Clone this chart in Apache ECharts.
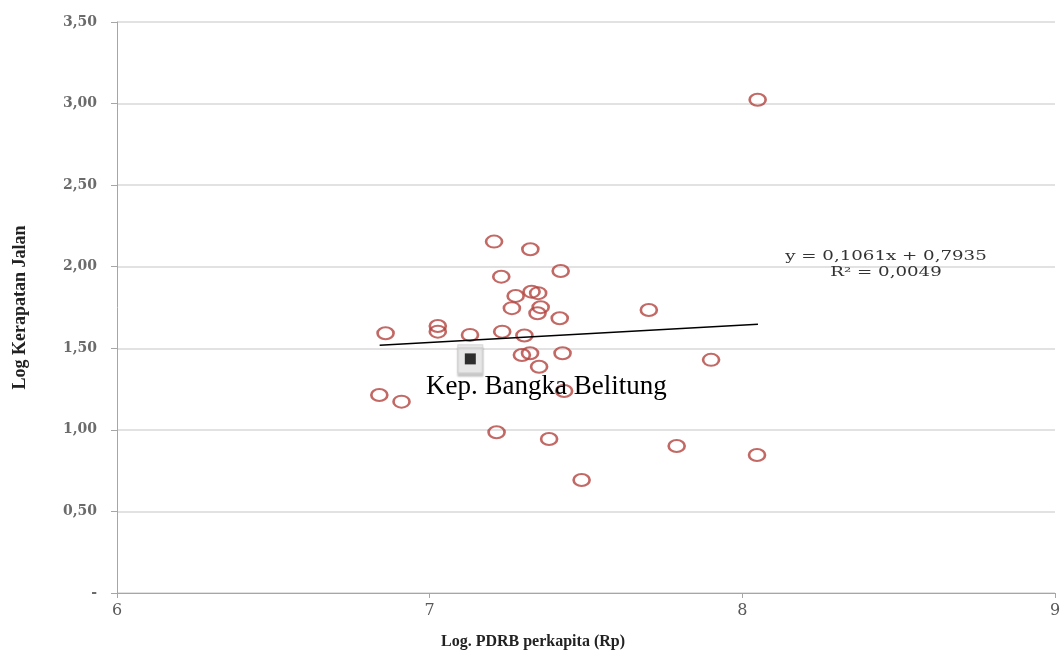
<!DOCTYPE html>
<html>
<head>
<meta charset="utf-8">
<script src="https://cdn.jsdelivr.net/npm/echarts@6/dist/echarts.min.js"></script>
<style>
  html, body { margin: 0; padding: 0; background: #fff; }
  #chart { width: 1063px; height: 653px; }
</style>
</head>
<body>
<div id="chart"></div>
<script>
// log PDRB per capita (x) vs log road density (y), one point per province
var pdrbLog = [6.839, 6.910, 6.859, 7.026, 7.026, 7.129, 7.232, 7.214, 7.206, 7.322, 7.229,
    7.419, 7.326, 7.347, 7.275, 7.263, 7.355, 7.345, 7.416, 7.303, 7.295, 7.321, 7.350,
    7.425, 7.430, 7.382, 7.486, 7.701, 7.900, 7.790, 8.047, 8.049];
var jalanLog = [1.214, 1.173, 1.592, 1.637, 1.602, 1.582, 1.602, 0.985, 2.154, 2.107, 1.939,
    1.974, 1.847, 1.838, 1.821, 1.746, 1.752, 1.715, 1.684, 1.578, 1.459, 1.470, 1.387,
    1.470, 1.238, 0.944, 0.693, 1.735, 1.429, 0.901, 0.846, 3.023];

// linear trend  y = 0,1061x + 0,7935  (end points as drawn)
var trendX = [6.84, 8.05];
var trendY = [1.519, 1.648];

// highlighted province
var highlight = [7.13, 1.435];
var highlightName = 'Kep. Bangka Belitung';

var xTicks = [6, 9, 1];      // min, max, interval
var yTicks = [0, 3.5, 0.5];

var points = pdrbLog.map(function (x, i) { return [x, jalanLog[i]]; });
var trend = trendX.map(function (x, i) { return [x, trendY[i]]; });

var myChart = echarts.init(document.getElementById('chart'));

var option = {
    backgroundColor: '#ffffff',
    animation: false,
    grid: { left: 117, right: 8, top: 22, bottom: 60, outerBoundsMode: 'none' },
    xAxis: {
        type: 'value',
        min: xTicks[0], max: xTicks[1], interval: xTicks[2],
        name: 'Log. PDRB perkapita (Rp)',
        nameLocation: 'middle',
        nameGap: 41,
        nameTextStyle: {
            fontFamily: 'Liberation Serif', fontWeight: 'bold', fontSize: 16,
            color: '#222', padding: [0, 106, 0, 0]
        },
        axisLine: { show: true, lineStyle: { color: '#a6a6a6', width: 1 } },
        axisTick: { show: true, inside: false, length: 5, lineStyle: { color: '#a6a6a6' } },
        axisLabel: { margin: 10, fontFamily: 'DejaVu Serif', fontSize: 16, color: '#595959' },
        splitLine: { show: false }
    },
    yAxis: {
        type: 'value',
        min: yTicks[0], max: yTicks[1], interval: yTicks[2],
        name: 'Log Kerapatan Jalan',
        nameLocation: 'middle',
        nameGap: 88,
        nameRotate: 90,
        nameTextStyle: { fontFamily: 'Liberation Serif', fontWeight: 'bold', fontSize: 18, color: '#222' },
        axisLine: { show: true, lineStyle: { color: '#a6a6a6', width: 1 } },
        axisTick: { show: true, inside: false, length: 6, lineStyle: { color: '#a6a6a6' } },
        axisLabel: {
            margin: 20,
            fontFamily: 'DejaVu Serif', fontWeight: 'bold', fontSize: 14, color: '#6b6b6b',
            formatter: function (v) {
                if (v === 0) return '-';
                return v.toFixed(2).replace('.', ',');
            }
        },
        splitLine: { show: true, lineStyle: { color: '#d9d9d9', width: 1.5 } }
    },
    series: [
        {
            name: 'Provinsi',
            type: 'scatter',
            symbol: 'circle',
            symbolSize: [16, 12],
            itemStyle: { color: 'rgba(255,255,255,0)', borderColor: '#b3443f', borderWidth: 2.3 },
            data: points
        },
        {
            name: 'Trend',
            type: 'line',
            data: trend,
            symbol: 'none',
            lineStyle: { color: '#000', width: 1.5 },
            z: 3
        },
        {
            name: 'box',
            type: 'scatter',
            symbol: 'rect',
            symbolSize: [25, 28],
            itemStyle: {
                color: '#eeeeee', borderColor: '#d0d0d0', borderWidth: 1,
                shadowColor: 'rgba(0,0,0,0.25)', shadowOffsetY: 3, shadowBlur: 2
            },
            data: [highlight],
            z: 4
        },
        {
            name: highlightName,
            type: 'scatter',
            symbol: 'rect',
            symbolSize: 11,
            itemStyle: { color: '#000' },
            data: [highlight],
            z: 5
        }
    ],
    graphic: [
        {
            type: 'text',
            left: 426,
            top: 373,
            z: 10,
            style: {
                text: highlightName,
                fontFamily: 'Liberation Serif', fontSize: 27, fill: '#000'
            }
        },
        {
            type: 'text',
            x: 886,
            y: 265,
            scaleX: 1.4,
            z: 10,
            style: {
                text: 'y = 0,1061x + 0,7935\nR\u00b2 = 0,0049',
                fontFamily: 'DejaVu Serif', fontSize: 13, lineHeight: 16,
                fill: '#333333', textAlign: 'center', textVerticalAlign: 'middle'
            }
        }
    ]
};

myChart.setOption(option);
</script>
</body>
</html>
